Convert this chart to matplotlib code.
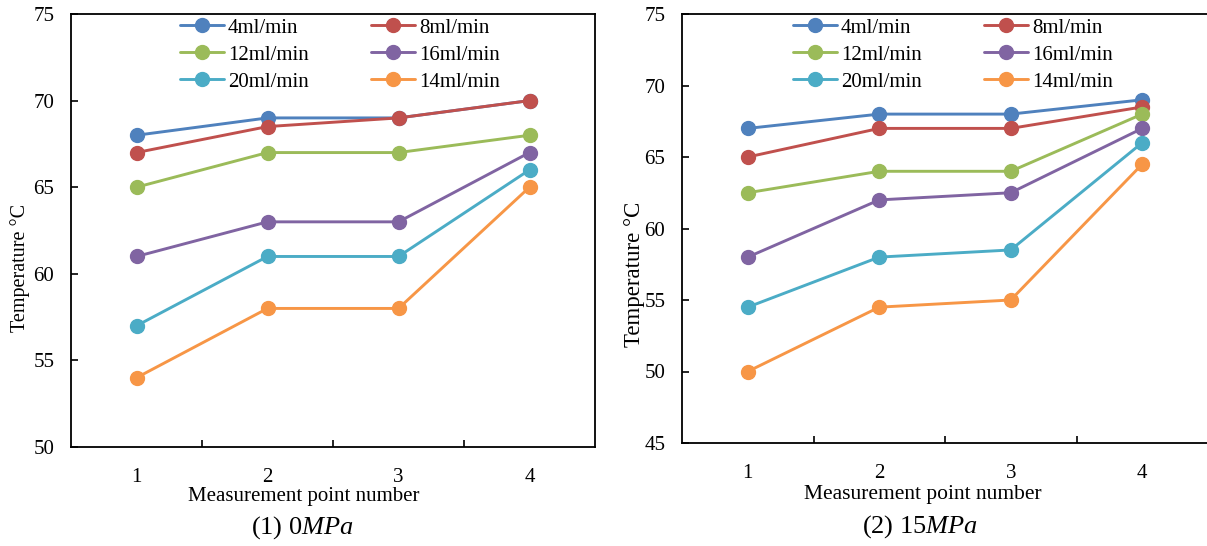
import matplotlib
matplotlib.use("Agg")
import matplotlib.pyplot as plt

plt.rcParams['font.family'] = ['Liberation Serif', 'DejaVu Serif']
plt.rcParams['mathtext.fontset'] = 'custom'
plt.rcParams['mathtext.rm'] = 'Liberation Serif'
plt.rcParams['mathtext.it'] = 'Liberation Serif:italic'

points = [1, 2, 3, 4]
series_names = ["4ml/min", "8ml/min", "12ml/min", "16ml/min", "20ml/min", "14ml/min"]
colors = ["#4F81BD", "#C0504D", "#9BBB59", "#8064A2", "#4BACC6", "#F79646"]

# (1) 0 MPa
p0_4 = [68, 69, 69, 70]
p0_8 = [67, 68.5, 69, 70]
p0_12 = [65, 67, 67, 68]
p0_16 = [61, 63, 63, 67]
p0_20 = [57, 61, 61, 66]
p0_14 = [54, 58, 58, 65]

# (2) 15 MPa
p15_4 = [67, 68, 68, 69]
p15_8 = [65, 67, 67, 68.5]
p15_12 = [62.5, 64, 64, 68]
p15_16 = [58, 62, 62.5, 67]
p15_20 = [54.5, 58, 58.5, 66]
p15_14 = [50, 54.5, 55, 64.5]

panel0 = [p0_4, p0_8, p0_12, p0_16, p0_20, p0_14]
panel15 = [p15_4, p15_8, p15_12, p15_16, p15_20, p15_14]

xlabel = "Measurement point number"
ylabel = "Temperature \u00b0C"
titles = [r"(1) 0$\mathit{MPa}$", r"(2) 15$\mathit{MPa}$"]

W, H = 1207, 546
fig = plt.figure(figsize=(W / 100, H / 100), dpi=100)


def px_axes(l, t, r, b):
    return fig.add_axes([l / W, (H - b) / H, (r - l) / W, (b - t) / H])


def draw(ax, data, ylim, yticks, ylabel_size, ylabel_xy, legend_anchor):
    for vals, name, c in zip(data, series_names, colors):
        ax.plot(points, vals, color=c, lw=2.1, marker='o', ms=10,
                label=name, solid_capstyle='round')
    ax.set_xlim(0.5, 4.5)
    ax.set_ylim(*ylim)
    ax.set_yticks(yticks)
    ax.set_xticks(points)
    ax.set_xticks([1.5, 2.5, 3.5], minor=True)
    ax.tick_params(axis='x', which='major', length=0, pad=15, labelsize=15)
    ax.tick_params(axis='x', which='minor', direction='in', length=5, width=1.2)
    ax.tick_params(axis='y', direction='in', length=5, width=1.2, pad=12, labelsize=15)
    for s in ax.spines.values():
        s.set_linewidth(1.3)
    ax.set_ylabel(ylabel, fontsize=ylabel_size)
    ax.yaxis.set_label_coords(*ylabel_xy)
    handles, labels = ax.get_legend_handles_labels()
    order = [0, 2, 4, 1, 3, 5]
    ax.legend([handles[i] for i in order], [labels[i] for i in order],
              ncol=2, frameon=False, loc='upper left',
              bbox_to_anchor=(legend_anchor[0] / W, 1 - legend_anchor[1] / H),
              bbox_transform=fig.transFigure, fontsize=15,
              handlelength=2.1, handletextpad=0.2, columnspacing=3.0,
              labelspacing=0.36, borderpad=0, borderaxespad=0)


ax1 = px_axes(71, 14, 595, 447)
draw(ax1, panel0, (50, 75), [50, 55, 60, 65, 70, 75], 14.5, (-0.078, 0.413), (180, 18))

ax2 = px_axes(682, 14, 1208, 443)
draw(ax2, panel15, (45, 75), [45, 50, 55, 60, 65, 70, 75], 16.5, (-0.071, 0.392), (793, 18))

fig.text(304 / W, 1 - 497 / H, xlabel, ha='center', va='center', fontsize=15)
fig.text(923 / W, 1 - 495 / H, xlabel, ha='center', va='center', fontsize=15.5)
fig.text(302 / W, 1 - 528 / H, titles[0], ha='center', va='center', fontsize=19)
fig.text(920 / W, 1 - 527 / H, titles[1], ha='center', va='center', fontsize=19)

fig.savefig("out.png", dpi=100)
